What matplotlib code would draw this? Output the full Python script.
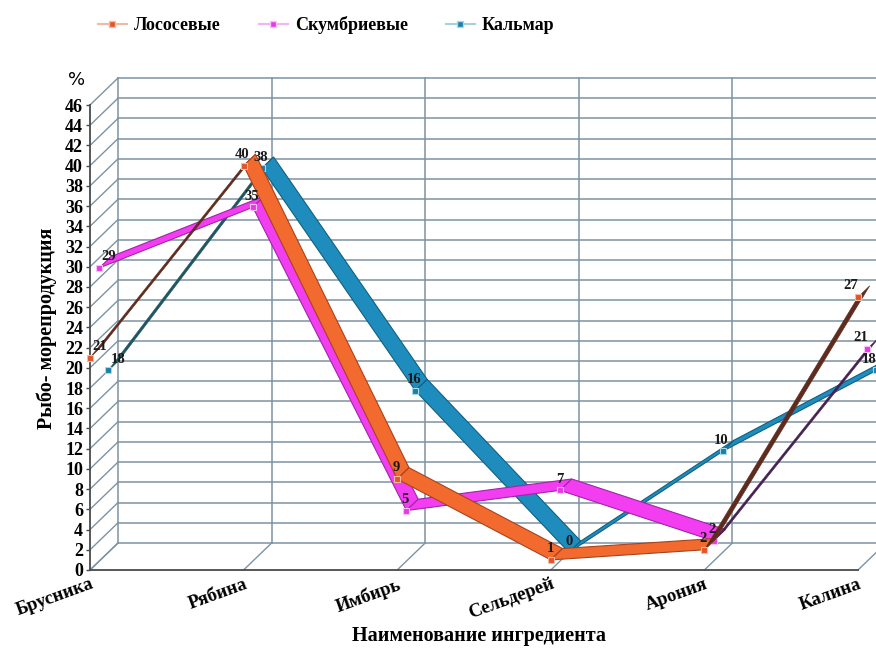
import matplotlib
matplotlib.use("Agg")
import matplotlib.pyplot as plt
from matplotlib.patches import Polygon
from matplotlib.lines import Line2D

# ---- data ----
categories = ["Брусника", "Рябина", "Имбирь", "Сельдерей", "Арония", "Калина"]
series_names = ["Лососевые", "Скумбриевые", "Кальмар"]
salmon = [21, 40, 9, 1, 2, 27]
mackerel = [29, 35, 5, 7, 2, 21]
squid = [18, 38, 16, 0, 10, 18]
y_ticks = list(range(0, 47, 2))

plt.rcParams["font.family"] = ["Liberation Serif", "DejaVu Serif"]

W, H = 876, 650
fig = plt.figure(figsize=(W / 100, H / 100), dpi=100)
fig.patch.set_facecolor("white")
L, R, T, B = 90, 858, 105, 570
ax = fig.add_axes([L / W, 1 - B / H, (R - L) / W, (B - T) / H])
ax.set_xlim(0, len(categories) - 1)
ax.set_ylim(0, 46)

# oblique depth vector of the whole plot box, in data units
DX = 28 / ((R - L) / (len(categories) - 1))
DY = 27 / ((B - T) / 46)

grid_c = "#7D93A3"
ncat = len(categories)
# back wall + side wall grid
for v in y_ticks:
    ax.plot([DX, ncat - 1 + DX + 0.2], [v + DY, v + DY], color=grid_c, lw=1.1, zorder=1, clip_on=False)
    ax.plot([0, DX], [v, v + DY], color=grid_c, lw=1, zorder=1, clip_on=False)
# floor + back wall verticals
for c in range(ncat):
    ax.plot([c, c + DX], [0, DY], color=grid_c, lw=1, zorder=1, clip_on=False)
    ax.plot([c + DX, c + DX], [DY, 46 + DY], color=grid_c, lw=1.1, zorder=1, clip_on=False)

styles = {
    "Лососевые": dict(values=salmon, depth=0.0, face="#F26A2E", edge="#A8421C", dark="#5E2C1E",
                      mfc="#E0552A", mec="#F7B9A0", lline="#F2B8A6"),
    "Скумбриевые": dict(values=mackerel, depth=0.33, face="#F23EF0", edge="#A024A8", dark="#45214F",
                        mfc="#E33CE6", mec="#F9C0F9", lline="#F1B6F1"),
    "Кальмар": dict(values=squid, depth=0.65, face="#1E8DBE", edge="#10607F", dark="#1F5560",
                    mfc="#1C7FA6", mec="#A8D8E6", lline="#A6D2DC"),
}
ribbon_w = 0.42
label_dx = [7, -1, -1, 0, -1, -5]  # points

draw_order = ["Кальмар", "Скумбриевые", "Лососевые"]
for k, name in enumerate(draw_order):
    st = styles[name]
    vals = st["values"]
    d = st["depth"]
    xs = [i + d * DX for i in range(ncat)]
    ys = [v + d * DY for v in vals]
    z = 3 + k
    for i in range(ncat - 1):
        p1 = (xs[i], ys[i])
        p2 = (xs[i + 1], ys[i + 1])
        off = (ribbon_w * DX, ribbon_w * DY)
        poly = [p1, p2, (p2[0] + off[0], p2[1] + off[1]), (p1[0] + off[0], p1[1] + off[1])]
        # choose visible face colour from orientation on screen
        a = ax.transData.transform(p1)
        b = ax.transData.transform(p2)
        o = ax.transData.transform((p1[0] + off[0], p1[1] + off[1])) - a
        seg = b - a
        cross = seg[0] * o[1] - seg[1] * o[0]
        if cross > 0:
            fc, ec, lw = st["face"], st["edge"], 0.8
        else:
            fc, ec, lw = st["dark"], st["dark"], 0.4
        ax.add_patch(Polygon(poly, closed=True, facecolor=fc, edgecolor=ec, lw=lw,
                             zorder=z, clip_on=False))
    ax.plot(xs, ys, "s", ms=4.5, mfc=st["mfc"], mec=st["mec"], mew=0.8, ls="none",
            zorder=z + 0.5, clip_on=False)
    for i, v in enumerate(vals):
        ax.annotate(str(v), (xs[i], ys[i]), xytext=(label_dx[i], 8), textcoords="offset points",
                    ha="center", va="center", fontsize=10.5, fontweight="bold", color="#1a1a1a",
                    zorder=10, annotation_clip=False)

# axes styling
for s in ["top", "right"]:
    ax.spines[s].set_visible(False)
for s in ["left", "bottom"]:
    ax.spines[s].set_color("#4A4A4A")
    ax.spines[s].set_linewidth(1.3)
    ax.spines[s].set_zorder(2)
ax.set_facecolor("none")
ax.set_yticks(y_ticks)
ax.set_yticklabels([str(v) for v in y_ticks], fontsize=13, fontweight="bold")
ax.tick_params(axis="y", length=3, width=1, color="#4A4A4A", pad=2)
ax.set_xticks(range(ncat))
ax.set_xticklabels(categories, rotation=20, ha="right", va="top", rotation_mode="anchor",
                   fontsize=13.5, fontweight="bold")
ax.tick_params(axis="x", length=0, pad=4)

ax.set_ylabel("Рыбо- морепродукция", fontsize=14.5, fontweight="bold")
ax.yaxis.set_label_coords(-(L - 57) / (R - L), 0.52)
ax.set_xlabel("Наименование ингредиента", fontsize=14.5, fontweight="bold")
ax.xaxis.set_label_coords((479 - L) / (R - L), -(626 - B) / (B - T))

fig.text(77 / W, 1 - 80 / H, "%", fontsize=13, family="DejaVu Sans", ha="center", va="center")

handles = [Line2D([0], [0], color=styles[n]["lline"], lw=1.5, marker="s", ms=4.5,
                  mfc=styles[n]["mfc"], mec=styles[n]["mec"]) for n in series_names]
fig.legend(handles, series_names, loc="center left", bbox_to_anchor=(89 / W, 1 - 25 / H),
           ncol=3, frameon=False, handlelength=1.6, handletextpad=0.4, columnspacing=2.1,
           borderpad=0, prop=dict(size=13, weight="bold"))

fig.savefig("out.png", dpi=100, facecolor="white")
